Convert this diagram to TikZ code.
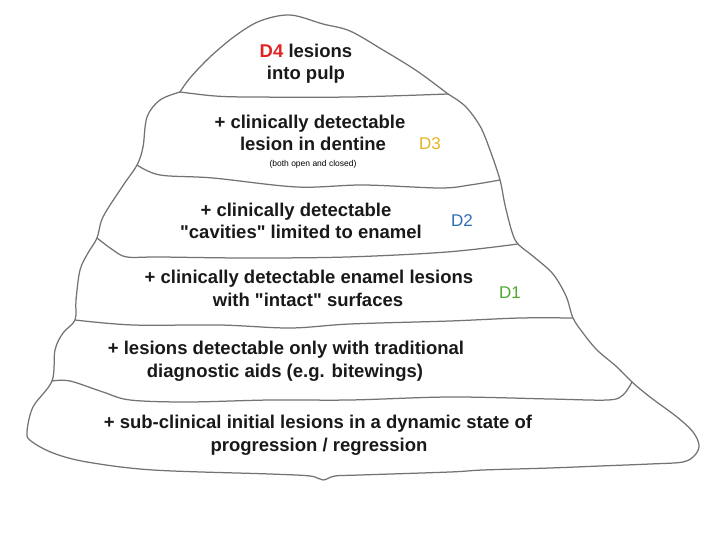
\documentclass[tikz,border=0pt]{standalone}
\usepackage{fontspec}
\setmainfont{Liberation Sans}
\newcommand{\qq}{\textquotedbl}
\begin{document}
\begin{tikzpicture}[x=1pt,y=-1pt,
  edge/.style={draw=black!55,line width=1.25pt,line join=round,line cap=round},
  lbl/.style={font=\bfseries\fontsize{18.5}{23}\selectfont,text=black!90,inner sep=0pt,anchor=base},
  dtag/.style={font=\fontsize{17}{20}\selectfont,inner sep=0pt,anchor=base}]
\useasboundingbox (0,0) rectangle (720,540);
\definecolor{dfour}{HTML}{E02424}
\definecolor{dthree}{HTML}{E6B41E}
\definecolor{dtwo}{HTML}{2F6DB5}
\definecolor{done}{HTML}{4DAA30}
% cap top
\draw[edge] plot[smooth,tension=0.55] coordinates {(180,92) (190,78) (210,57) (235,36) (260,21) (290,15) (323,24) (350,31) (383,50) (417,71) (448,94)};
% rest of outer outline
\draw[edge] plot[smooth,tension=0.55] coordinates {(448,94) (465,106) (480,126) (490,150) (500,180) (505,205) (512,232) (518,244) (534,257) (553,274) (566,296) (573,318) (583,333) (597,350) (617,367) (632,382) (650,397) (677,417) (693,432) (699,445) (695,455) (683,462) (650,464) (600,466) (550,468) (483,470) (450,472) (360,475) (335,476) (323,480) (310,476) (270,474) (153,470) (87,462) (53,453) (31,441) (27,432) (33,407) (52,381) (55,350) (63,333) (75,320) (76,300) (80,270) (88,253) (97,238) (103,217) (122,187) (137,165) (143,147) (147,117) (160,100) (180,92)};
% inner boundaries
\draw[edge] plot[smooth,tension=0.55] coordinates {(180,92) (215,96) (250,97) (350,97) (448,94)};
\draw[edge] plot[smooth,tension=0.55] coordinates {(137,165) (160,175) (213,178) (297,187) (363,185) (440,188) (470,185) (500,180)};
\draw[edge] plot[smooth,tension=0.55] coordinates {(97,238) (113,250) (127,257) (160,257) (247,258) (347,257) (447,252) (518,244)};
\draw[edge] plot[smooth,tension=0.55] coordinates {(75,320) (133,325) (220,325) (290,328) (350,324) (450,321) (520,318) (573,318)};
\draw[edge] plot[smooth,tension=0.55] coordinates {(52,381) (70,381) (103,392) (130,400) (187,402) (270,400) (350,400) (450,397) (550,399) (608,400) (623,395) (632,382)};
% texts
\node[lbl] (t4a) at (306,58) {\textcolor{dfour}{D4} lesions};
\node[lbl] (t4b) at (306,80) {into pulp};
\node[lbl] (t3a) at (310,129) {+ clinically detectable};
\node[lbl] (t3b) at (313,151) {lesion in dentine};
\node[font=\fontsize{8.5}{10}\selectfont,inner sep=0pt,anchor=base] (t3s) at (313,167) {(both open and closed)};
\node[dtag,text=dthree] (d3) at (430,150) {D3};
\node[lbl] (t2a) at (296,216) {+ clinically detectable};
\node[lbl] (t2b) at (301,239) {\qq cavities\qq{} limited to enamel};
\node[dtag,text=dtwo] (d2) at (462,226) {D2};
\node[lbl] (t1a) at (309,283) {+ clinically detectable enamel lesions};
\node[lbl] (t1b) at (308,306) {with \qq intact\qq{} surfaces};
\node[dtag,text=done] (d1) at (510,298) {D1};
\node[lbl] (t0a) at (286,354) {+ lesions detectable only with traditional};
\node[lbl] (t0b) at (285,377) {diagnostic aids (e.g. bitewings)};
\node[lbl] (tba) at (318,428) {+ sub-clinical initial lesions in a dynamic state of};
\node[lbl] (tbb) at (319,451) {progression / regression};
\end{tikzpicture}
\end{document}
